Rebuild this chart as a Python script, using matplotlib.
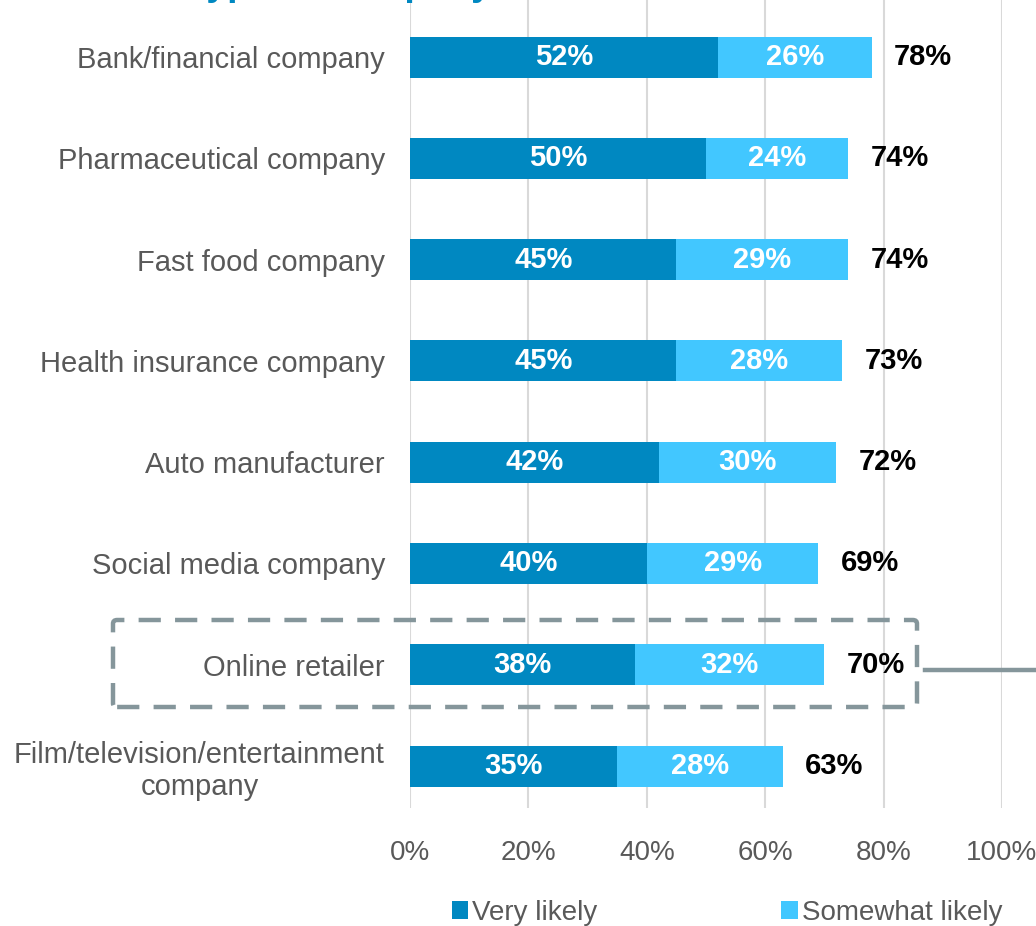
import matplotlib
matplotlib.use("Agg")
import matplotlib.pyplot as plt
from matplotlib.patches import FancyBboxPatch, Patch
from matplotlib.lines import Line2D

plt.rcParams['font.family'] = ['Liberation Sans', 'DejaVu Sans']

categories = [
    "Bank/financial company",
    "Pharmaceutical company",
    "Fast food company",
    "Health insurance company",
    "Auto manufacturer",
    "Social media company",
    "Online retailer",
    "Film/television/entertainment\ncompany",
]
very_likely = [52, 50, 45, 45, 42, 40, 38, 35]
somewhat_likely = [26, 24, 29, 28, 30, 29, 32, 28]
totals = [78, 74, 74, 73, 72, 69, 70, 63]
series_names = ["Very likely", "Somewhat likely"]
tick_values = [0, 20, 40, 60, 80, 100]
tick_labels = ["0%", "20%", "40%", "60%", "80%", "100%"]

DARK = "#0088C1"
LIGHT = "#42C7FF"
GRID = "#D9D9D9"
TEXT_GRAY = "#595959"
BOX = "#85969B"

W, H = 1036, 926
fig = plt.figure(figsize=(W / 100, H / 100), dpi=100)
ax = fig.add_axes([410 / W, 1 - 808 / H, (1002 - 410) / W, 808 / H])

ypos = list(range(len(categories)))
bar_h = 0.405
ax.barh(ypos, very_likely, height=bar_h, color=DARK, zorder=3)
ax.barh(ypos, somewhat_likely, left=very_likely, height=bar_h, color=LIGHT, zorder=3)

for i in ypos:
    ax.text(very_likely[i] / 2, i, f"{very_likely[i]}%", ha="center", va="center",
            color="white", fontsize=21, fontweight="bold", zorder=4)
    ax.text(very_likely[i] + somewhat_likely[i] / 2, i, f"{somewhat_likely[i]}%",
            ha="center", va="center", color="white", fontsize=21, fontweight="bold", zorder=4)
    ax.annotate(f"{totals[i]}%", xy=(very_likely[i] + somewhat_likely[i], i),
                xytext=(16, 0), textcoords="offset points", ha="left", va="center",
                color="black", fontsize=21, fontweight="bold", zorder=4)

ax.set_xlim(0, 100)
ax.set_ylim(7.414, -0.563)
ax.set_xticks(tick_values)
ax.set_xticklabels(tick_labels, fontsize=20, color=TEXT_GRAY)
ax.set_yticks(ypos)
ax.set_yticklabels(categories, fontsize=21, color=TEXT_GRAY, linespacing=1.2)
for lbl in ax.get_yticklabels():
    lbl.set_multialignment("center")
ax.tick_params(axis="both", length=0)
ax.tick_params(axis="x", pad=23)
ax.tick_params(axis="y", pad=18)
for s in ax.spines.values():
    s.set_visible(False)
ax.xaxis.grid(True, color=GRID, linewidth=1.5, zorder=0)
ax.set_axisbelow(True)

# heading sits mostly above the top edge
fig.text(492 / W, 1 + 5 / H, "Trust in each type of company", ha="right", va="baseline",
         fontsize=27, fontweight="bold", color=DARK)

# dashed highlight around the online retailer row
box = FancyBboxPatch((113 / W, 1 - 707 / H), (917 - 113) / W, (707 - 620) / H,
                     boxstyle="round,pad=0,rounding_size=0.004",
                     transform=fig.transFigure, fill=False, edgecolor=BOX,
                     linewidth=3.2, linestyle=(0, (5, 3.2)), zorder=5)
fig.patches.append(box)
fig.lines.append(Line2D([925 / W, 1.0], [1 - 670 / H, 1 - 670 / H],
                        transform=fig.transFigure, color=BOX, linewidth=3.2))

handles = [Patch(facecolor=DARK), Patch(facecolor=LIGHT)]
fig.legend(handles, series_names, loc="center", bbox_to_anchor=(727 / W, 1 - 913 / H),
           ncol=2, frameon=False, fontsize=20, labelcolor=TEXT_GRAY,
           handlelength=0.6, handleheight=0.6, handletextpad=0.15, columnspacing=6.6)

fig.savefig("out.png", dpi=100)
